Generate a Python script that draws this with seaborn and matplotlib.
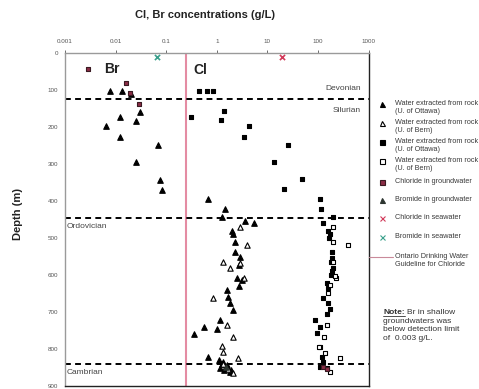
import matplotlib
matplotlib.use("Agg")
import matplotlib.pyplot as plt
from matplotlib.lines import Line2D
import seaborn as sns
import pandas as pd

# ---- data (concentration in g/L, depth in m) ----
br_ottawa_conc = [0.0078, 0.0132, 0.020, 0.030, 0.012, 0.025, 0.0065, 0.012, 0.068, 0.025,
                  0.076, 0.083, 0.68, 1.46, 1.26, 3.6, 5.5, 2.0, 2.1, 2.3,
                  2.3, 2.9, 2.8, 2.5, 3.1, 2.7, 1.6, 1.7, 1.8, 2.1,
                  1.16, 0.56, 1.03, 0.36, 0.68, 1.12, 1.26, 1.58, 1.16, 1.83,
                  1.3, 1.5, 1.9, 1.4]
br_ottawa_depth = [102, 102, 110, 158, 172, 182, 197, 226, 248, 294,
                   343, 370, 395, 422, 442, 453, 459, 480, 489, 510,
                   537, 551, 573, 609, 614, 630, 641, 659, 677, 695,
                   722, 740, 747, 761, 822, 831, 841, 844, 852, 862,
                   835, 850, 858, 857]

br_bern_conc = [2.9, 3.9, 1.35, 1.83, 3.4, 0.86, 1.58, 2.13, 1.26, 1.35, 2.67, 1.35, 2.13, 1.70, 2.9]
br_bern_depth = [471, 519, 564, 580, 609, 663, 736, 767, 793, 808, 826, 841, 865, 856, 569]

cl_ottawa_conc = [0.45, 0.63, 0.86, 1.41, 0.31, 1.22, 4.35, 3.47, 26, 13.5,
                  48, 21.7, 111, 114, 203, 125, 161, 188, 188, 197,
                  150, 161, 128, 161, 174, 150, 88, 111, 95, 111,
                  119, 128, 111, 150, 170, 165, 185, 190, 180]
cl_ottawa_depth = [102, 102, 102, 155, 172, 181, 197, 226, 248, 294,
                   341, 368, 395, 422, 444, 459, 480, 537, 555, 582,
                   623, 636, 663, 677, 693, 706, 722, 740, 758, 794,
                   822, 835, 849, 853, 488, 500, 565, 590, 600]

cl_bern_conc = [203, 203, 400, 203, 229, 150, 133, 107, 139, 275, 174, 220, 175, 160]
cl_bern_depth = [470, 510, 520, 564, 609, 736, 767, 794, 811, 826, 862, 602, 627, 650]

gw_cl_conc = [0.0029, 0.0158, 0.0193, 0.029, 128, 150]
gw_cl_depth = [43, 80, 107, 137, 849, 856]

gw_br_conc = [1.5]
gw_br_depth = [850]

sea_cl_conc = [19.3]
sea_cl_depth = [10]
sea_br_conc = [0.067]
sea_br_depth = [10]

guideline_cl = 0.25  # Ontario drinking water guideline for chloride, g/L

boundaries = {"Silurian top": 125, "Ordovician top": 445, "Cambrian top": 842}

x_ticks = [0.001, 0.01, 0.1, 1, 10, 100, 1000]
x_tick_labels = ["0.001", "0.01", "0.1", "1", "10", "100", "1000"]
y_ticks = list(range(0, 1000, 100))

# ---- styling ----
sns.set_theme(style="white")
plt.rcParams["font.family"] = ["Liberation Sans", "DejaVu Sans"]

W, H = 479, 389
fig = plt.figure(figsize=(W / 100, H / 100), dpi=100)
ax = fig.add_axes([65 / W, 1 - 385.7 / H, (368.5 - 65) / W, (385.7 - 53.3) / H])


def fx(px):
    return px / W


def fy(py):
    return 1 - py / H


ax.set_xscale("log")
ax.set_xlim(0.001, 1000)
ax.set_ylim(900, 0)

# formation boundaries
for d in boundaries.values():
    ax.plot([0.001, 1000], [d, d], color="black", lw=1.4, ls=(0, (3, 2.2)),
            zorder=2, clip_on=False)

# drinking water guideline
ax.axvline(guideline_cl, color="#e48ca3", lw=1.5, zorder=1)

series = [
    (br_ottawa_conc, br_ottawa_depth, "^", "black", "black", 16),
    (br_bern_conc, br_bern_depth, "^", "white", "black", 15),
    (cl_ottawa_conc, cl_ottawa_depth, "s", "black", "black", 12),
    (cl_bern_conc, cl_bern_depth, "s", "white", "black", 12),
    (gw_cl_conc, gw_cl_depth, "s", "#8a2c45", "#3a1a22", 12),
    (gw_br_conc, gw_br_depth, "^", "#2d3530", "#2d3530", 15),
]
for conc, depth, mk, fc, ec, s in series:
    df = pd.DataFrame({"conc": conc, "depth": depth})
    sns.scatterplot(data=df, x="conc", y="depth", marker=mk, color=fc,
                    edgecolor=ec, linewidth=0.8, s=s, ax=ax, legend=False,
                    zorder=3)

sns.scatterplot(x=sea_cl_conc, y=sea_cl_depth, marker="x", color="#d23a5a",
                s=14, linewidth=1.2, ax=ax, legend=False, zorder=4, clip_on=False)
sns.scatterplot(x=sea_br_conc, y=sea_br_depth, marker="x", color="#3aa08c",
                s=14, linewidth=1.2, ax=ax, legend=False, zorder=4, clip_on=False)

# axes cosmetics
ax.set_xlabel("")
ax.set_ylabel("")
ax.xaxis.tick_top()
ax.set_xticks(x_ticks)
ax.set_xticklabels(x_tick_labels)
ax.minorticks_off()
ax.set_yticks(y_ticks)
ax.tick_params(axis="x", which="major", top=True, bottom=False, length=2,
               width=0.6, labelsize=4.5, colors="#555555", pad=5)
ax.tick_params(axis="y", length=2, width=0.6, labelsize=4.5, colors="#555555", pad=3)
for side in ("left", "top"):
    ax.spines[side].set_color("#9a9a9a")
    ax.spines[side].set_linewidth(1.0)
for side in ("right", "bottom"):
    ax.spines[side].set_color("#222222")
    ax.spines[side].set_linewidth(1.0)

# titles and labels
fig.text(fx(205), fy(15), "Cl, Br concentrations (g/L)", ha="center", va="center",
         fontsize=8, fontweight="bold", color="#222222")
fig.text(fx(18), fy(214), "Depth (m)", rotation=90, ha="center", va="center",
         fontsize=8, fontweight="bold", color="#222222")

fig.text(fx(104), fy(69), "Br", ha="left", va="center", fontsize=10,
         fontweight="bold", color="#222222")
fig.text(fx(193), fy(70), "Cl", ha="left", va="center", fontsize=10,
         fontweight="bold", color="#222222")

geo_kw = dict(fontsize=6, color="#444444", va="center")
fig.text(fx(361), fy(89), "Devonian", ha="right", **geo_kw)
fig.text(fx(361), fy(110), "Silurian", ha="right", **geo_kw)
fig.text(fx(67), fy(227), "Ordovician", ha="left", **geo_kw)
fig.text(fx(67), fy(372), "Cambrian", ha="left", **geo_kw)

# legend
leg_x_marker = 382
leg_x_text = 395
legend_entries = [
    ("^", "black", "black", "Water extracted from rock\n(U. of Ottawa)", 104),
    ("^", "white", "black", "Water extracted from rock\n(U. of Bern)", 123),
    ("s", "black", "black", "Water extracted from rock\n(U. of Ottawa)", 142),
    ("s", "white", "black", "Water extracted from rock\n(U. of Bern)", 161),
    ("s", "#8a2c45", "#3a1a22", "Chloride in groundwater", 182),
    ("^", "#2d3530", "#2d3530", "Bromide in groundwater", 200),
    ("x", "#d23a5a", "#d23a5a", "Chloride in seawater", 218),
    ("x", "#3aa08c", "#3aa08c", "Bromide in seawater", 237),
]
for mk, fc, ec, label, py in legend_entries:
    fig.add_artist(Line2D([fx(leg_x_marker)], [fy(py)], transform=fig.transFigure,
                          marker=mk, markersize=3.6, markerfacecolor=fc,
                          markeredgecolor=ec, markeredgewidth=0.8, linestyle="none"))
    fig.text(fx(leg_x_text), fy(py - 3.8), label, ha="left", va="top",
             fontsize=5.2, color="#3a3a3a", linespacing=1.25)

fig.add_artist(Line2D([fx(369), fx(393)], [fy(257), fy(257)],
                      transform=fig.transFigure, color="#c98a9a", lw=0.8))
fig.text(fx(leg_x_text), fy(253.2), "Ontario Drinking Water\nGuideline for Chloride",
         ha="left", va="top", fontsize=5.2, color="#3a3a3a", linespacing=1.25)

# note about shallow bromide
note_kw = dict(fontsize=6, color="#333333", va="top", ha="left")
t_note = fig.text(fx(383), fy(309), "Note:", fontweight="bold", **note_kw)
fig.canvas.draw()
bb = t_note.get_window_extent()
fig.add_artist(Line2D([bb.x0 / W, bb.x1 / W], [(bb.y0 + 0.3) / H, (bb.y0 + 0.3) / H],
                      transform=fig.transFigure, color="#333333", lw=0.6))
fig.text((bb.x1 + 2) / W, fy(309), "Br in shallow", **note_kw)
fig.text(fx(383), fy(318), "groundwaters was\nbelow detection limit\nof  0.003 g/L.",
         linespacing=1.25, **note_kw)

fig.savefig("out.png", dpi=100)
